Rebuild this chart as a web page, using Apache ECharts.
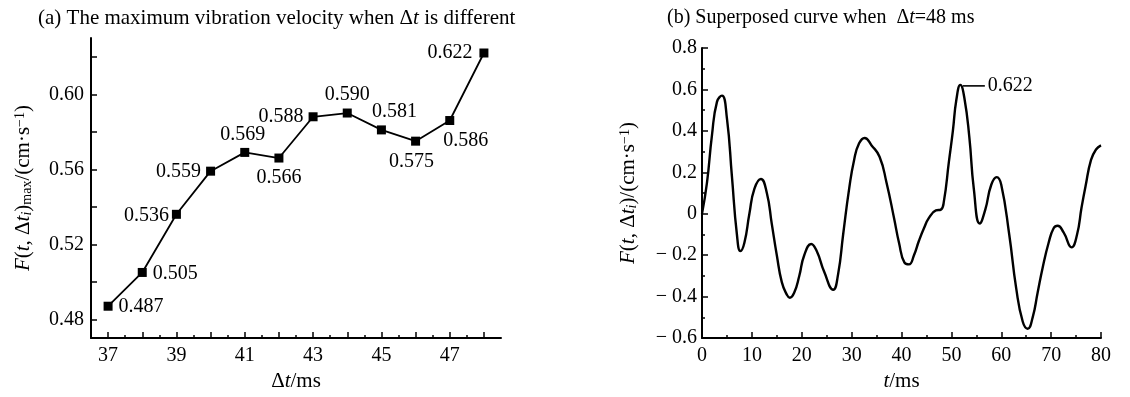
<!DOCTYPE html>
<html>
<head>
<meta charset="utf-8">
<script src="https://cdn.jsdelivr.net/npm/echarts@6/dist/echarts.min.js"></script>
<style>
html,body{margin:0;padding:0;background:#fff;}
#c{width:1130px;height:397px;}
</style>
</head>
<body>
<div id="c"></div>
<script>
// ---- data (a) ----
const dtValues = [37, 38, 39, 40, 41, 42, 43, 44, 45, 46, 47, 48];
const maxVelocity = [0.487, 0.505, 0.536, 0.559, 0.569, 0.566, 0.588, 0.590, 0.581, 0.575, 0.586, 0.622];
const aXTickValues = [37, 38, 39, 40, 41, 42, 43, 44, 45, 46, 47, 48];
const aXMinorTickValues = [37.5, 38.5, 39.5, 40.5, 41.5, 42.5, 43.5, 44.5, 45.5, 46.5, 47.5];
const aXLabelValues = [37, 39, 41, 43, 45, 47];
const aYTickValues = [0.48, 0.50, 0.52, 0.54, 0.56, 0.58, 0.60, 0.62];
const aYLabelValues = [0.48, 0.52, 0.56, 0.60];

// ---- data (b) ----
const tCurve = [0, 1, 2, 3, 4, 5, 6, 7, 7.7, 8.5, 9.5, 10.5, 11.8, 13, 14, 15, 16, 17, 17.6, 18.5, 19.5, 20.5, 21.9, 23, 24.5, 26.3, 27.3, 28.3, 29.5, 30.5, 31.5, 32.6, 34, 35.6, 37, 38.5, 39.5, 40.6, 41.5, 42.5, 43.5, 44.5, 45.5, 46.9, 47.9, 48.5, 49.5, 50.3, 51, 51.8, 52.6, 53.6, 54.5, 55.7, 56.8, 58, 59.1, 60, 61.6, 63, 64.3, 65.3, 66.3, 67.3, 68.3, 69.5, 70.5, 71.3, 72.5, 74.1, 75.2, 76.1, 76.9, 78, 79, 80];
const vCurve = [0.0, 0.15, 0.38, 0.54, 0.57, 0.46, 0.18, -0.10, -0.18, -0.14, 0.0, 0.12, 0.168, 0.10, -0.05, -0.20, -0.33, -0.39, -0.405, -0.38, -0.30, -0.20, -0.146, -0.18, -0.28, -0.367, -0.29, -0.10, 0.12, 0.26, 0.34, 0.366, 0.33, 0.275, 0.15, -0.02, -0.14, -0.236, -0.244, -0.20, -0.13, -0.07, -0.02, 0.016, 0.02, 0.06, 0.25, 0.40, 0.55, 0.622, 0.56, 0.37, 0.12, -0.047, 0.02, 0.14, 0.177, 0.14, -0.10, -0.36, -0.52, -0.555, -0.50, -0.38, -0.26, -0.14, -0.07, -0.058, -0.09, -0.162, -0.10, 0.03, 0.133, 0.26, 0.31, 0.33];

const SERIF = '"Liberation Serif", "Times New Roman", serif';
const FS = 20;

const chart = echarts.init(document.getElementById('c'));

const nameRich = {
  n: {fontFamily: SERIF, fontSize: 21, color: '#000'},
  i: {fontFamily: SERIF, fontSize: 21, color: '#000', fontStyle: 'italic'},
  si: {fontFamily: SERIF, fontSize: 14, color: '#000', fontStyle: 'italic', verticalAlign: 'bottom'},
  s: {fontFamily: SERIF, fontSize: 14, color: '#000', verticalAlign: 'bottom'},
  p: {fontFamily: SERIF, fontSize: 14, color: '#000', verticalAlign: 'top'}
};
const titleRich = {
  i: {fontFamily: SERIF, fontSize: 21, color: '#000', fontStyle: 'italic'}
};
const titleRichB = {
  i: {fontFamily: SERIF, fontSize: 20, color: '#000', fontStyle: 'italic'}
};

// label placement for (a)
const labelLayout = [
  {position: 'right', distance: 6, offset: [0, 1]},
  {position: 'right', distance: 6, offset: [0, 1]},
  {position: 'left', distance: 3, offset: [0, 1]},
  {position: 'left', distance: 5, offset: [0, 1]},
  {position: 'top', distance: 3, offset: [-2, 0]},
  {position: 'bottom', distance: 5, offset: [0, 0]},
  {position: 'left', distance: 5, offset: [0, 0]},
  {position: 'top', distance: 4, offset: [0, 0]},
  {position: 'top', distance: 4, offset: [13, 0]},
  {position: 'bottom', distance: 6, offset: [-4, 0]},
  {position: 'bottom', distance: 6, offset: [16, 0]},
  {position: 'left', distance: 7, offset: [0, 0]}
];

const seriesAData = dtValues.map((x, k) => ({
  value: [x, maxVelocity[k]],
  label: Object.assign({show: true, formatter: maxVelocity[k].toFixed(3)}, labelLayout[k])
}));

const seriesBData = tCurve.map((t, k) => [t, vCurve[k]]);

const axisLineStyle = {show: true, onZero: false, lineStyle: {color: '#000', width: 2}};

const option = {
  backgroundColor: '#fff',
  animation: false,
  title: [
    {
      text: '(a) The maximum vibration velocity when Δ{i|t} is different',
      left: 33, top: 3,
      textStyle: {fontFamily: SERIF, fontSize: 21, fontWeight: 'normal', color: '#000', rich: titleRich}
    },
    {
      text: '(b) Superposed curve when  Δ{i|t}=48 ms',
      left: 662, top: 3,
      textStyle: {fontFamily: SERIF, fontSize: 20, fontWeight: 'normal', color: '#000', rich: titleRichB}
    }
  ],
  grid: [
    {left: 91, top: 38, width: 410, height: 307},
    {left: 702, top: 48, width: 399, height: 297}
  ],
  xAxis: [
    {
      gridIndex: 0, type: 'value', min: 36.5, max: 48.5, position: 'bottom',
      axisLine: axisLineStyle,
      axisTick: {show: true, inside: true, length: 6, customValues: aXTickValues, lineStyle: {color: '#000', width: 1.5}},
      axisLabel: {show: true, customValues: aXLabelValues, margin: 8, fontFamily: SERIF, fontSize: FS, color: '#000'},
      splitLine: {show: false},
      name: 'Δ{i|t}/ms', nameLocation: 'middle', nameGap: 24,
      nameTextStyle: {fontFamily: SERIF, fontSize: 21, color: '#000', rich: nameRich}
    },
    {
      gridIndex: 0, type: 'value', min: 36.5, max: 48.5, position: 'bottom',
      axisLine: {show: false, onZero: false},
      axisTick: {show: true, inside: true, length: 3, customValues: aXMinorTickValues, lineStyle: {color: '#000', width: 1.5}},
      axisLabel: {show: false},
      splitLine: {show: false}
    },
    {
      gridIndex: 1, type: 'value', min: 0, max: 80, interval: 10, position: 'bottom',
      axisLine: axisLineStyle,
      axisTick: {show: true, inside: true, length: 6, lineStyle: {color: '#000', width: 1.5}},
      minorTick: {show: true, splitNumber: 2, length: 3, lineStyle: {color: '#000', width: 1.5}},
      axisLabel: {margin: 8, fontFamily: SERIF, fontSize: FS, color: '#000'},
      splitLine: {show: false},
      name: '{i|t}/ms', nameLocation: 'middle', nameGap: 26,
      nameTextStyle: {fontFamily: SERIF, fontSize: 21, color: '#000', rich: nameRich}
    }
  ],
  yAxis: [
    {
      gridIndex: 0, type: 'value', min: 0.47, max: 0.63,
      axisLine: axisLineStyle,
      axisTick: {show: true, inside: true, length: 6, customValues: aYTickValues, lineStyle: {color: '#000', width: 1.5}},
      axisLabel: {show: true, customValues: aYLabelValues, margin: 7, fontFamily: SERIF, fontSize: FS, color: '#000',
        formatter: v => v.toFixed(2)},
      splitLine: {show: false},
      name: '{i|F}{n|(}{i|t}{n|, Δ}{i|t}{si|i}{n|)}{s|max}{n|/(cm·s}{p|−1}{n|)}',
      nameLocation: 'middle', nameGap: 57,
      nameTextStyle: {fontFamily: SERIF, fontSize: 21, color: '#000', rich: nameRich}
    },
    {
      gridIndex: 1, type: 'value', min: -0.6, max: 0.8, interval: 0.2,
      axisLine: axisLineStyle,
      axisTick: {show: true, inside: true, length: 6, lineStyle: {color: '#000', width: 1.5}},
      minorTick: {show: true, splitNumber: 2, length: 3, lineStyle: {color: '#000', width: 1.5}},
      axisLabel: {margin: 5, fontFamily: SERIF, fontSize: FS, color: '#000',
        formatter: v => {
          const r = Math.round(v * 10) / 10;
          if (r === 0) return '0';
          if (r < 0) return '− ' + Math.abs(r).toFixed(1);
          return r.toFixed(1);
        }},
      splitLine: {show: false},
      name: '{i|F}{n|(}{i|t}{n|, Δ}{i|t}{si|i}{n|)/(cm·s}{p|−1}{n|)}',
      nameLocation: 'middle', nameGap: 63,
      nameTextStyle: {fontFamily: SERIF, fontSize: 21, color: '#000', rich: nameRich}
    }
  ],
  series: [
    {
      type: 'line', xAxisIndex: 0, yAxisIndex: 0,
      data: seriesAData,
      symbol: 'rect', symbolSize: 9,
      itemStyle: {color: '#000'},
      lineStyle: {color: '#000', width: 1.8},
      label: {fontFamily: SERIF, fontSize: FS, color: '#000'},
      z: 3
    },
    {
      type: 'line', xAxisIndex: 2, yAxisIndex: 1,
      data: seriesBData,
      smooth: 0.5,
      showSymbol: false, symbol: 'none',
      lineStyle: {color: '#000', width: 2.4},
      markPoint: {
        symbol: 'circle', symbolSize: 1,
        itemStyle: {color: 'rgba(0,0,0,0)'},
        data: [{type: 'max', valueDim: 'y'}],
        label: {
          show: true, position: 'right', distance: 2, offset: [0, 1],
          formatter: p => '{l|}{v|' + (Array.isArray(p.value) ? p.value[1] : p.value).toFixed(3) + '}',
          rich: {
            l: {width: 22, height: 1.6, backgroundColor: '#000'},
            v: {fontFamily: SERIF, fontSize: FS, color: '#000', padding: [0, 0, 0, 3]}
          }
        }
      }
    }
  ]
};
chart.setOption(option);
</script>
</body>
</html>
